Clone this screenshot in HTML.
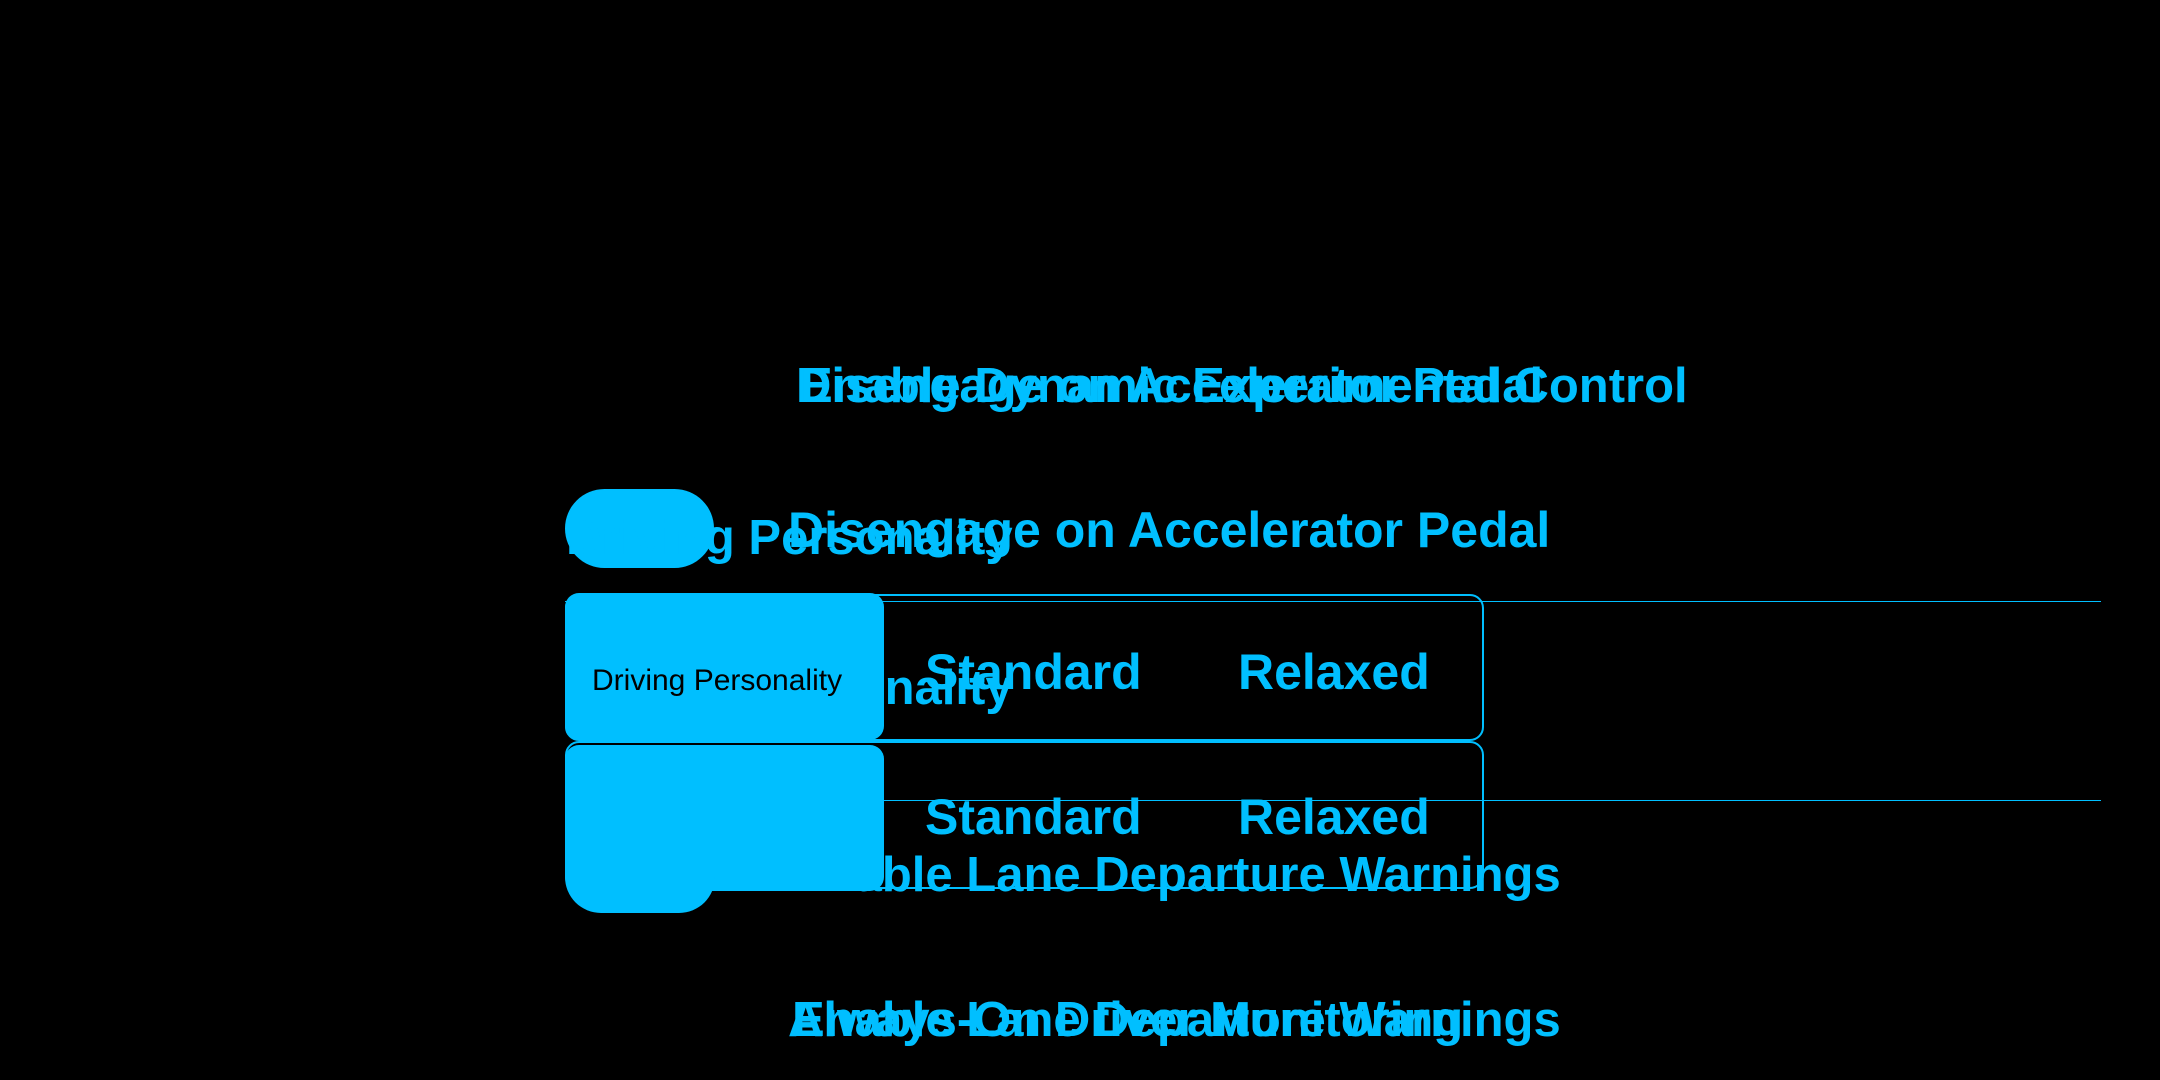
<!DOCTYPE html>
<html><head><meta charset="utf-8"><style>
body{margin:0;width:2160px;height:1080px;background:#000;position:relative;overflow:hidden;font-family:"Liberation Sans",sans-serif;color:#00BFFF}
.a{position:absolute}
.t{position:absolute;font-size:49px;white-space:nowrap;line-height:1;font-weight:bold}
</style></head><body>
<div class="t" style="left:796px;top:362px">Disengage on Accelerator Pedal</div>
<div class="t" style="left:800px;top:362px">Enable Dynamic Experimental Control</div>
<div class="a" style="left:565px;top:489px;width:149px;height:79px;border-radius:40px;background:#00BFFF"></div>
<div class="t" style="left:566px;top:514px;font-size:49px">Driving Personality</div>
<div class="t" style="left:788px;top:505px;font-size:50px">Disengage on Accelerator Pedal</div>
<div class="a" style="left:565px;top:601px;width:1536px;height:1px;background:#00BFFF"></div>
<div class="a" style="left:565px;top:800px;width:1536px;height:1px;background:#00BFFF"></div>
<div class="a" style="left:565px;top:594px;width:915px;height:143px;border:2px solid #00BFFF;border-radius:14px"></div>
<div class="a" style="left:565px;top:741px;width:915px;height:144px;border:2px solid #00BFFF;border-radius:14px"></div>
<div class="t" style="left:566px;top:664px;font-size:49px">Driving Personality</div>
<div class="a" style="left:565px;top:593px;width:319px;height:147px;border-radius:14px;background:#00BFFF"></div>
<div class="t" style="left:592px;top:666px;font-size:30px;color:#000;font-weight:normal">Driving Personality</div>
<div class="t" style="left:925px;top:647px;font-size:50px">Standard</div>
<div class="t" style="left:1238px;top:647px;font-size:50px">Relaxed</div>
<div class="t" style="left:792px;top:851px">Enable Lane Departure Warnings</div>
<div class="a" style="left:565px;top:745px;width:319px;height:146px;border-radius:14px;background:#00BFFF"></div>
<div class="a" style="left:565px;top:840px;width:150px;height:73px;border-radius:0 0 36px 36px;background:#00BFFF"></div>
<div class="t" style="left:925px;top:792px;font-size:50px">Standard</div>
<div class="t" style="left:1238px;top:792px;font-size:50px">Relaxed</div>
<div class="t" style="left:788px;top:996px">Always-On Driver Monitoring</div>
<div class="t" style="left:792px;top:996px">Enable Lane Departure Warnings</div>
</body></html>
